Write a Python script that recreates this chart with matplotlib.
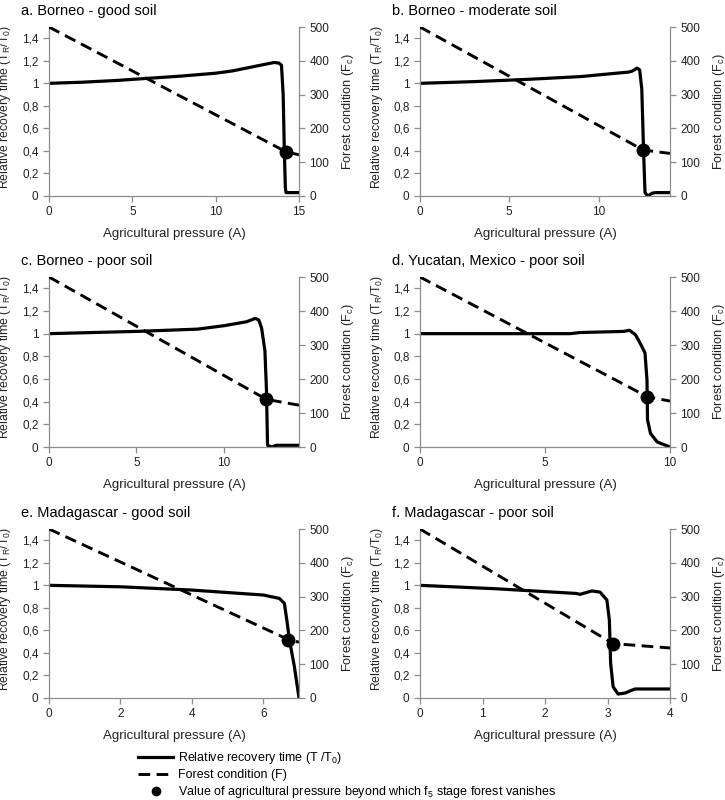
import matplotlib
matplotlib.use("Agg")
import matplotlib.pyplot as plt
from matplotlib.lines import Line2D
from matplotlib.ticker import FuncFormatter

plt.rcParams["font.family"] = ["Liberation Sans", "DejaVu Sans"]
plt.rcParams["mathtext.fontset"] = "custom"
plt.rcParams["mathtext.rm"] = "Liberation Sans"
plt.rcParams["mathtext.it"] = "Liberation Sans:italic"

# ========= datos =========
titulos = ["a. Borneo - good soil", "b. Borneo - moderate soil", "c. Borneo - poor soil",
           "d. Yucatan, Mexico - poor soil", "e. Madagascar - good soil", "f. Madagascar - poor soil"]
x_max = [15, 14, 14.3, 10, 7, 4]
x_ticks = [[0, 5, 10, 15], [0, 5, 10], [0, 5, 10], [0, 5, 10], [0, 2, 4, 6], [0, 1, 2, 3, 4]]

# tiempo de recuperacion relativo (eje izq)
a_x_rt = [0, 2, 4, 6, 8, 10, 11, 12, 13, 13.5, 13.8, 13.95, 14.05, 14.12, 14.18, 14.22, 15]
a_rt = [1.0, 1.01, 1.025, 1.045, 1.065, 1.09, 1.11, 1.14, 1.17, 1.185, 1.18, 1.16, 0.9, 0.4, 0.08, 0.03, 0.03]
b_x_rt = [0, 3, 6, 9, 11, 11.7, 11.9, 12.15, 12.3, 12.42, 12.52, 12.6, 12.75, 13.0, 13.2, 14]
b_rt = [1.0, 1.015, 1.035, 1.06, 1.09, 1.10, 1.11, 1.135, 1.12, 0.95, 0.4, 0.03, 0.0, 0.025, 0.03, 0.03]
c_x_rt = [0, 3, 5, 8.5, 10, 11.3, 11.8, 12.0, 12.16, 12.35, 12.44, 12.5, 12.73, 13.0, 14.3]
c_rt = [1.0, 1.012, 1.02, 1.04, 1.07, 1.105, 1.135, 1.12, 1.05, 0.85, 0.5, 0.015, 0.0, 0.015, 0.015]
d_x_rt = [0, 6, 6.4, 8.15, 8.38, 8.62, 8.82, 9.0, 9.08, 9.1, 9.22, 9.49, 10]
d_rt = [1.0, 1.0, 1.01, 1.02, 1.03, 0.99, 0.91, 0.83, 0.59, 0.24, 0.12, 0.044, 0.0]
e_x_rt = [0, 2, 4, 6, 6.45, 6.59, 6.66, 6.73, 6.87, 7.0]
e_rt = [1.0, 0.987, 0.958, 0.914, 0.884, 0.84, 0.69, 0.52, 0.28, 0.0]
f_x_rt = [0, 1.2, 2.5, 2.56, 2.75, 2.88, 2.99, 3.03, 3.05, 3.09, 3.17, 3.28, 3.44, 4.0]
f_rt = [1.0, 0.97, 0.928, 0.92, 0.95, 0.94, 0.87, 0.69, 0.31, 0.10, 0.035, 0.044, 0.08, 0.08]

# condicion del bosque (eje der)
a_x_f, a_f = [0, 14.25, 15], [500, 130, 122]
b_x_f, b_f = [0, 12.5, 14], [500, 136, 126]
c_x_f, c_f = [0, 12.44, 14.3], [500, 140, 123]
d_x_f, d_f = [0, 9.09, 10], [500, 148, 135]
e_x_f, e_f = [0, 6.7, 7.0], [500, 173, 165]
f_x_f, f_f = [0, 3.09, 4], [500, 161, 148]

# punto: presion agricola donde desaparece el bosque f5
punto_x = [14.25, 12.5, 12.44, 9.09, 6.7, 3.09]
punto_f = [130, 136, 140, 148, 173, 161]

series_rt = [(a_x_rt, a_rt), (b_x_rt, b_rt), (c_x_rt, c_rt), (d_x_rt, d_rt), (e_x_rt, e_rt), (f_x_rt, f_rt)]
series_f = [(a_x_f, a_f), (b_x_f, b_f), (c_x_f, c_f), (d_x_f, d_f), (e_x_f, e_f), (f_x_f, f_f)]

# ========= figura =========
W, H = 725, 800
fig = plt.figure(figsize=(W / 100, H / 100), dpi=100)
gris = "#8c8c8c"
texto = "#222222"
coma = FuncFormatter(lambda v, p: f"{v:g}".replace(".", ","))

lefts = [49, 420]
bottoms = [196, 447, 698]
tops = [27, 277, 529]

for i in range(6):
    col, fila = i % 2, i // 2
    l, b, t = lefts[col], bottoms[fila], tops[fila]
    ax = fig.add_axes([l / W, 1 - b / H, 250 / W, (b - t) / H])
    ax2 = ax.twinx()

    ax.plot(*series_rt[i], color="black", lw=2.3, solid_joinstyle="round")
    ax2.plot(*series_f[i], color="black", lw=2.1, linestyle=(0, (4, 2.2)))
    ax2.plot(punto_x[i], punto_f[i], "o", color="black", ms=9)

    ax.set_xlim(0, x_max[i])
    ax.set_ylim(0, 1.5)
    ax2.set_ylim(0, 500)
    ax.set_xticks(x_ticks[i])
    ax.set_yticks([0, 0.2, 0.4, 0.6, 0.8, 1.0, 1.2, 1.4])
    ax2.set_yticks([0, 100, 200, 300, 400, 500])
    ax.yaxis.set_major_formatter(coma)

    for a_ in (ax, ax2):
        for s in a_.spines.values():
            s.set_color(gris)
            s.set_linewidth(0.9)
        a_.spines["top"].set_visible(False)
        a_.tick_params(colors=gris, labelcolor=texto, labelsize=8.5, length=4, width=0.9)
    ax.spines["right"].set_visible(False)
    ax2.spines["left"].set_visible(False)
    ax2.spines["bottom"].set_visible(False)

    ax.set_xlabel("Agricultural pressure (A)", fontsize=9.5, color=texto)
    ax.xaxis.set_label_coords(0.5, -0.19)
    ax.set_ylabel(r"Relative recovery time (T$_\mathregular{R}$/T$_\mathregular{0}$)", fontsize=8.8, color=texto)
    ax.yaxis.set_label_coords(-0.142, 0.53)
    ax2.set_ylabel(r"Forest condition (F$_\mathregular{c}$)", fontsize=9.2, color=texto)
    ax2.yaxis.set_label_coords(1.165, 0.5)

    fig.text((l - 28) / W, 1 - (t - 12) / H, titulos[i], fontsize=10.5, va="baseline", ha="left")

# leyenda
handles = [
    Line2D([], [], color="black", lw=2.3),
    Line2D([], [], color="black", lw=2.1, linestyle=(0, (4, 2.2))),
    Line2D([], [], color="black", marker="o", ms=6, lw=0),
]
labels = [r"Relative recovery time (T /T$_\mathregular{0}$)", "Forest condition (F)",
          r"Value of agricultural pressure beyond which f$_\mathregular{5}$ stage forest vanishes"]
fig.legend(handles, labels, loc="upper left", bbox_to_anchor=(132 / W, 1 - 744 / H),
           frameon=False, fontsize=9, handlelength=2.8, handletextpad=0.4, labelspacing=0.25,
           borderpad=0)

fig.savefig("out.png", dpi=100)
